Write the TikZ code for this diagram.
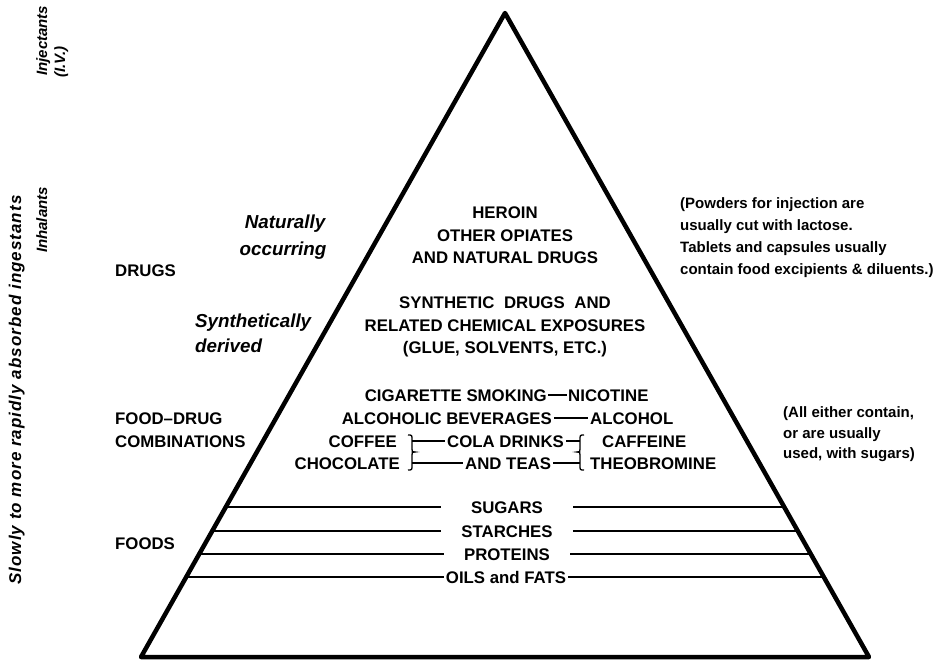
\documentclass[tikz,border=0pt]{standalone}
\usepackage{fontspec}
\setmainfont{Liberation Sans}
\usetikzlibrary{calc}
\begin{document}
\begin{tikzpicture}[x=1pt,y=-1pt,
  capt/.style={font=\bfseries\fontsize{16.8}{22}\selectfont, inner sep=0pt, text height=12.2pt, text depth=0pt},
  blk/.style={font=\bfseries\fontsize{16.8}{22.5}\selectfont, inner sep=0pt, align=center},
  note/.style={font=\bfseries\fontsize{15}{22}\selectfont, inner sep=0pt},
  ital/.style={font=\bfseries\itshape\fontsize{18.8}{25}\selectfont, inner sep=0pt},
  side/.style={font=\bfseries\itshape\fontsize{15}{18}\selectfont, inner sep=0pt, rotate=90},
  tri/.style={line width=4.5pt, line join=round},
  rule/.style={line width=2pt},
  conn/.style={line width=1.3pt}]
\useasboundingbox (0,0) rectangle (947,659);

% pyramid
\coordinate (apex) at (505,13);
\coordinate (bl) at (141,657);
\coordinate (br) at (869,657);
\draw[tri] (apex) -- (bl) -- (br) -- cycle;

% drugs
\node[blk, anchor=north] (her) at (505,207) {HEROIN\\OTHER OPIATES\\AND NATURAL DRUGS};
\node[blk, anchor=north] (syn) at (505,297) {SYNTHETIC\hspace{5pt} DRUGS\hspace{5pt} AND\\RELATED CHEMICAL EXPOSURES\\(GLUE, SOLVENTS, ETC.)};

% food-drug combinations
\node[capt, anchor=east, inner xsep=1pt] (cig) at (548,395) {CIGARETTE SMOKING};
\node[capt, anchor=west, inner xsep=1pt] (nic) at (567,395) {NICOTINE};
\draw[conn] (cig) -- (nic);
\node[capt, anchor=east, inner xsep=2pt] (alc) at (554,418) {ALCOHOLIC BEVERAGES};
\node[capt, anchor=west, inner xsep=2pt] (alh) at (588,418) {ALCOHOL};
\draw[conn] (alc) -- (alh);
\node[capt, anchor=east] (cof) at (397,441) {COFFEE};
\node[capt, anchor=east] (cho) at (400,463) {CHOCOLATE};
\node[capt, anchor=west, inner xsep=2pt] (cola) at (445,441) {COLA DRINKS};
\node[capt, anchor=west, inner xsep=2pt] (tea) at (463,463) {AND TEAS};
\node[capt, anchor=west] (caf) at (602,441) {CAFFEINE};
\node[capt, anchor=west] (theo) at (590,463) {THEOBROMINE};
\coordinate (lb1) at (412,441);
\coordinate (lb2) at (412,463);
\coordinate (rb1) at (580,441);
\coordinate (rb2) at (580,463);
\draw[conn] (lb1) -- (cola);
\draw[conn] (lb2) -- (tea);
\draw[conn] (cola) -- (rb1);
\draw[conn] (tea) -- (rb2);
\draw[conn] (408,435) .. controls (412,435) .. (412,440) -- (412,449) .. controls (412,452) .. (415,452) .. controls (412,452) .. (412,455) -- (412,465) .. controls (412,470) .. (408,470);
\draw[conn] (584,435) .. controls (580,435) .. (580,440) -- (580,449) .. controls (580,452) .. (577,452) .. controls (580,452) .. (580,455) -- (580,465) .. controls (580,470) .. (584,470);

% foods
\node[capt, inner xsep=30pt] (sug) at (507,507) {SUGARS};
\node[capt, inner xsep=20pt] (sta) at (507,531) {STARCHES};
\node[capt, inner xsep=20pt] (pro) at (507,554) {PROTEINS};
\node[capt, inner xsep=2pt] (oil) at (506,577) {OILS and FATS};
\coordinate (L1) at ($(apex)!0.7671!(bl)$);
\coordinate (R1) at ($(apex)!0.7671!(br)$);
\coordinate (L2) at ($(apex)!0.8043!(bl)$);
\coordinate (R2) at ($(apex)!0.8043!(br)$);
\coordinate (L3) at ($(apex)!0.8401!(bl)$);
\coordinate (R3) at ($(apex)!0.8401!(br)$);
\coordinate (L4) at ($(apex)!0.8758!(bl)$);
\coordinate (R4) at ($(apex)!0.8758!(br)$);
\draw[rule] (L1) -- (L1 -| sug.west);
\draw[rule] (sug.east |- R1) -- (R1);
\draw[rule] (L2) -- (L2 -| sta.west);
\draw[rule] (sta.east |- R2) -- (R2);
\draw[rule] (L3) -- (L3 -| pro.west);
\draw[rule] (pro.east |- R3) -- (R3);
\draw[rule] (L4) -- (L4 -| oil.west);
\draw[rule] (oil.east |- R4) -- (R4);

% left labels
\node[capt, anchor=west] (drugs) at (115,270) {DRUGS};
\node[capt, anchor=west] (fd) at (115,418) {FOOD–DRUG};
\node[capt, anchor=west] (comb) at (115,441) {COMBINATIONS};
\node[capt, anchor=west] (foods) at (115,543) {FOODS};

% italic labels
\node[ital, anchor=base] (nat) at (285,228) {Naturally};
\node[ital, anchor=base] (occ) at (283,255) {occurring};
\node[ital, anchor=base west] (synt) at (195,327) {Synthetically};
\node[ital, anchor=base west] (der) at (195,352) {derived};

% notes
\node[note, anchor=base west] (n1) at (680,208) {(Powders for injection are};
\node[note, anchor=base west] (n2) at (680,230) {usually cut with lactose.};
\node[note, anchor=base west] (n3) at (680,252) {Tablets and capsules usually};
\node[note, anchor=base west] (n4) at (680,274) {contain food excipients \& diluents.)};
\node[note, anchor=base west] (m1) at (783,417) {(All either contain,};
\node[note, anchor=base west] (m2) at (783,438) {or are usually};
\node[note, anchor=base west] (m3) at (783,458) {used, with sugars)};

% side labels
\node[side, font=\bfseries\itshape\fontsize{17}{20}\selectfont\addfontfeature{LetterSpace=6}, anchor=base] (slow) at (21,390) {Slowly to more rapidly absorbed ingestants};
\node[side, anchor=base west] (inj) at (47,76) {Injectants};
\node[side, anchor=base west] (iv) at (65,78) {(I.V.)};
\node[side, anchor=base] (inh) at (47,220) {Inhalants};
\end{tikzpicture}
\end{document}
